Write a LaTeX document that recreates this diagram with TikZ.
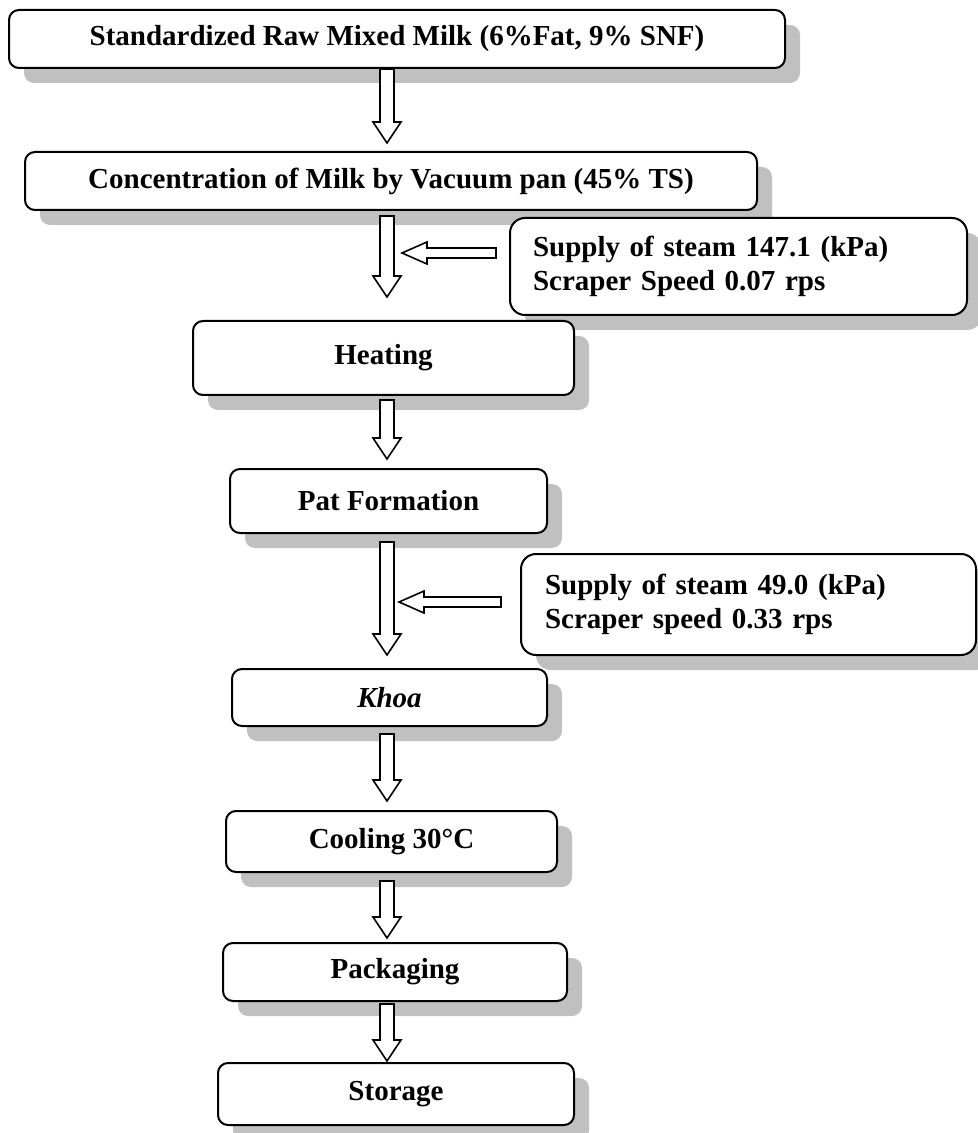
\documentclass[tikz,border=0pt]{standalone}
\usepackage{fontspec}
\setmainfont{Liberation Serif}
\usetikzlibrary{calc,shadows}
\definecolor{shade}{HTML}{C0C0C0}

\begin{document}
\begin{tikzpicture}[
        x=0.5pt, y=-0.5pt,
        every node/.style={font=\bfseries\fontsize{14.5}{17}\selectfont},
        box/.style={draw, line width=1pt, rounded corners=5pt, fill=white, minimum height=29pt,
            drop shadow={shadow xshift=7.5pt, shadow yshift=-7.5pt, fill=shade, opacity=1}},
        note/.style={box, rounded corners=7.5pt, align=left},
        ar/.style={draw, fill=white, line width=0.8pt, line join=miter},
        dn/.style 2 args={ar, to path={let \p1=(\tikztostart), \p2=(\tikztotarget) in
            (\x1-3.5pt,\y1-#1) -- (\x1-3.5pt,\y2+#2+10.5pt) -- (\x1-7pt,\y2+#2+10.5pt)
            -- (\x1,\y2+#2) -- (\x1+7pt,\y2+#2+10.5pt) -- (\x1+3.5pt,\y2+#2+10.5pt)
            -- (\x1+3.5pt,\y1-#1) -- cycle}},
        lt/.style={ar, to path={let \p1=(\tikztostart), \p2=(\tikztotarget) in
            (\x1-#1,\y1+2.5pt) -- (\x2+12.5pt,\y1+2.5pt) -- (\x2+12.5pt,\y1+5.5pt)
            -- (\x2,\y1) -- (\x2+12.5pt,\y1-5.5pt) -- (\x2+12.5pt,\y1-2.5pt)
            -- (\x1-#1,\y1-2.5pt) -- cycle}},
    ]
    \useasboundingbox (0,0) rectangle (978,1133);

    \node[box, minimum width=388pt](raw) at (397,39) {Standardized Raw Mixed Milk (6\%Fat, 9\% SNF)};
    \node[box, minimum width=366pt](conc) at (391,181) {Concentration of Milk by Vacuum pan (45\% TS)};
    \node[note, text width=205.5pt, inner xsep=11.5pt, minimum height=48.5pt](steamA) at (738.5,266.5)
        {Supply of steam 147.1 (kPa)\\Scraper Speed 0.07 rps};
    \node[box, minimum width=190.5pt, minimum height=37pt](heat) at (383.5,358) {Heating};
    \node[box, minimum width=158.5pt, minimum height=32pt](pat) at (388.5,501) {Pat Formation};
    \node[note, text width=203.5pt, inner xsep=12pt, minimum height=50.5pt](steamB) at (748.5,604.5)
        {Supply of steam 49.0 (kPa)\\Scraper speed 0.33 rps};
    \node[box, minimum width=157.5pt, minimum height=28.5pt](khoa) at (389.5,697.5) {\textit{Khoa}};
    \node[box, minimum width=165.5pt, minimum height=30.5pt](cool) at (391.5,841.5) {Cooling 30°C};
    \node[box, minimum width=172pt](pack) at (395,972) {Packaging};
    \node[box, minimum width=178pt, minimum height=31pt](store) at (396,1094) {Storage};

    \coordinate (spine) at (387,0);
    \coordinate (inA) at (402,253);
    \coordinate (inB) at (399,602);

    \draw[dn={0pt}{4pt}] (raw.south -| spine) to (conc.north -| spine);
    \draw[dn={2.5pt}{11.5pt}] (conc.south -| spine) to (heat.north -| spine);
    \draw[dn={2pt}{4.5pt}] (heat.south -| spine) to (pat.north -| spine);
    \draw[dn={4pt}{6.5pt}] (pat.south -| spine) to (khoa.north -| spine);
    \draw[dn={3.5pt}{4.5pt}] (khoa.south -| spine) to (cool.north -| spine);
    \draw[dn={4pt}{2pt}] (cool.south -| spine) to (pack.north -| spine);
    \draw[dn={1pt}{0.5pt}] (pack.south -| spine) to (store.north -| spine);

    \draw[lt=6.5pt] (steamA.west |- inA) to (inA);
    \draw[lt=9.5pt] (steamB.west |- inB) to (inB);
\end{tikzpicture}
\end{document}
